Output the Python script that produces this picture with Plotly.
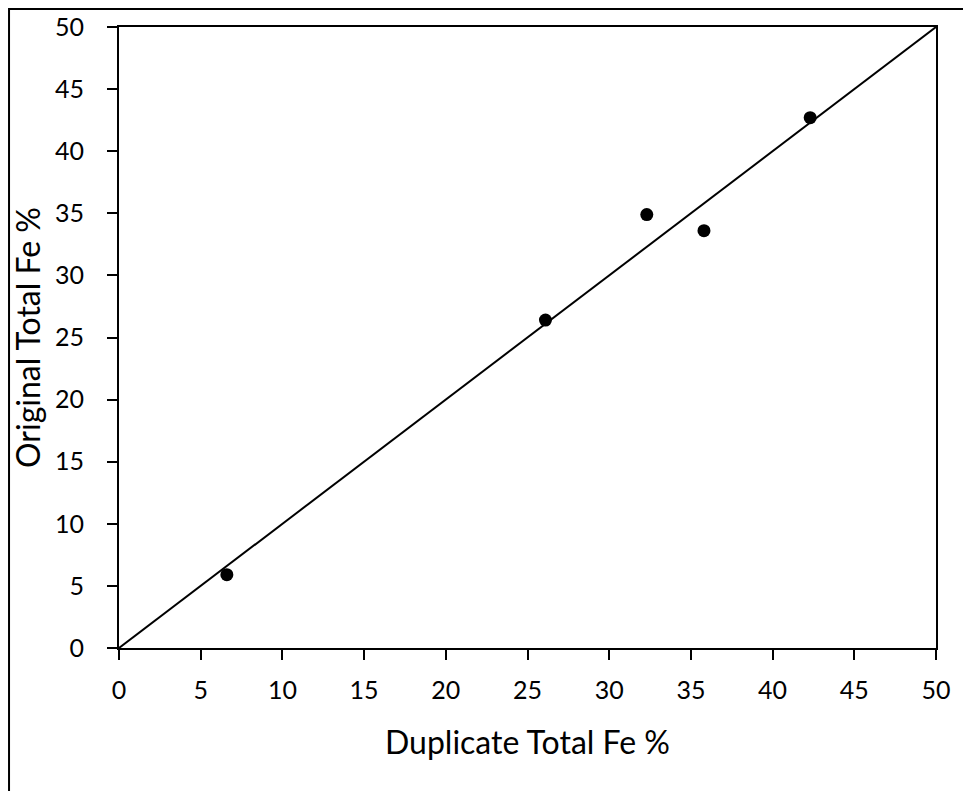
import plotly.graph_objects as go

# Duplicate vs original assays (Total Fe %)
duplicate_fe = [6.6, 26.1, 32.3, 35.8, 42.3]
original_fe = [5.9, 26.4, 34.9, 33.6, 42.7]

# 1:1 reference line end points
line_x = [0, 50]
line_y = [0, 50]

tick_vals = list(range(0, 55, 5))

FONT = "Lato"

fig = go.Figure()

fig.add_trace(go.Scatter(
    x=line_x,
    y=line_y,
    mode="lines",
    line=dict(color="black", width=2),
    showlegend=False,
    hoverinfo="skip",
))

fig.add_trace(go.Scatter(
    x=duplicate_fe,
    y=original_fe,
    mode="markers",
    marker=dict(color="black", size=13),
    showlegend=False,
))

axis_common = dict(
    range=[0, 50],
    tickvals=tick_vals,
    showgrid=False,
    zeroline=False,
    showline=True,
    linecolor="black",
    linewidth=2,
    mirror=True,
    ticks="outside",
    ticklen=10,
    tickwidth=2,
    tickcolor="black",
    tickfont=dict(family=FONT, size=25, color="black"),
    title_font=dict(family=FONT, size=32, color="black"),
)

fig.update_xaxes(axis_common, title_text="Duplicate Total Fe %", ticklabelstandoff=9, title_standoff=29)
fig.update_yaxes(axis_common, title_text="Original Total Fe %", ticklabelstandoff=18, title_standoff=25)

# outer chart frame (partly cut off, as in the source image)
fig.add_shape(
    type="rect",
    xref="paper", yref="paper",
    x0=-0.1346, x1=1.2, y0=-0.4, y1=1.029,
    line=dict(color="black", width=2),
    layer="below",
)

# the page body adds an 8px margin, so the figure is shrunk to fit the window
fig.update_layout(
    width=963,
    height=783,
    margin=dict(l=111, r=35, t=19, b=143, autoexpand=False),
    plot_bgcolor="white",
    paper_bgcolor="white",
    font=dict(family=FONT, color="black"),
)

fig.write_html("out.html")
